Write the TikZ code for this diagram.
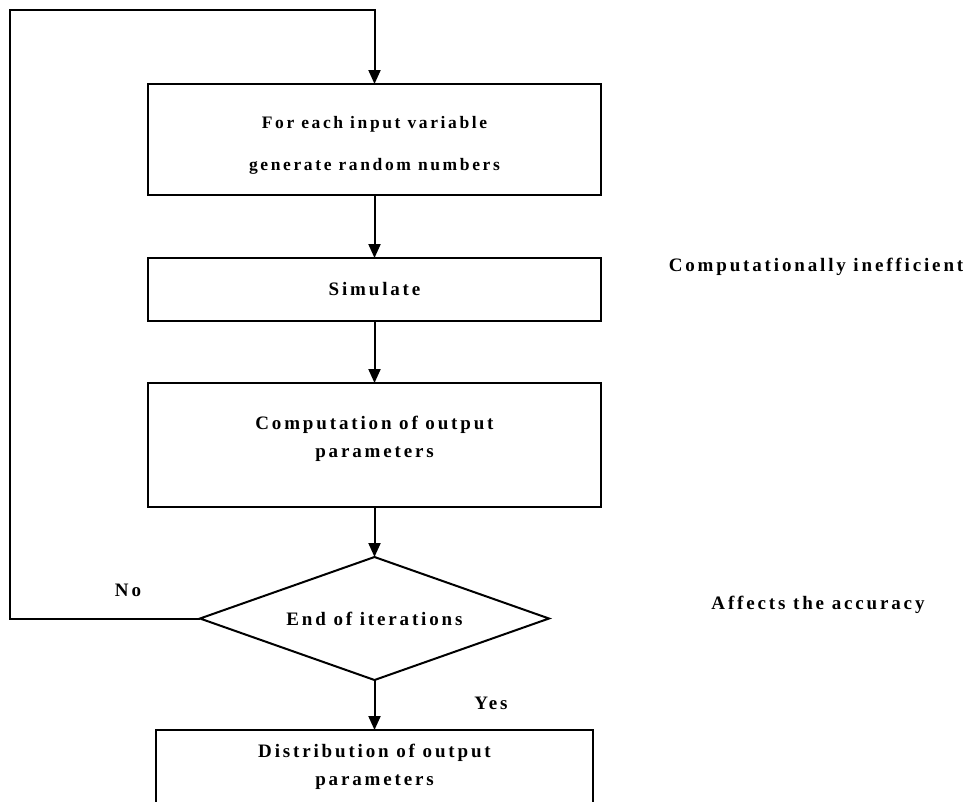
\documentclass[tikz,border=0pt]{standalone}
\usepackage{fontspec}
\setmainfont{Liberation Serif}[LetterSpace=15]
\usetikzlibrary{positioning,shapes.geometric,arrows.meta}

\begin{document}
\begin{tikzpicture}[x=1pt,y=-1pt,
    stepbox/.style={draw,rectangle,line width=2pt,outer sep=0pt,minimum width=453pt,align=center,
      font=\fontsize{19}{28}\selectfont\bfseries},
    decision/.style={draw,diamond,line width=2pt,outer sep=0pt,inner sep=0pt,shape aspect=2.84,
      minimum width=349pt,minimum height=123pt,font=\fontsize{19}{28}\selectfont\bfseries},
    remark/.style={font=\fontsize{19}{28}\selectfont\bfseries},
    flow/.style={-{Triangle[width=12pt,length=14pt]},line width=2pt}]
    \clip (0,0) rectangle (973,801);

    \node[stepbox,minimum height=111pt,text height=65pt,font=\fontsize{17.5}{42}\selectfont\bfseries] (gen) at (374.5,139.5) {For each input variable\\generate random numbers};
    \node[stepbox,minimum height=63pt,below=63pt of gen] (sim) {Simulate};
    \node[stepbox,minimum height=124pt,text depth=16pt,below=62pt of sim] (comp) {Computation of output\\parameters};
    \node[decision,below=50pt of comp] (iter) {End of iterations};
    \node[stepbox,minimum width=437pt,minimum height=74pt,below=50pt of iter] (dist) {Distribution of output\\parameters};

    \node[remark] (ineff) at (816,267) {Computationally inefficient};
    \node[remark] (acc) at (818,605) {Affects the accuracy};
    \node[remark] (no) at (128,590) {No};
    \node[remark] (yes) at (491,703) {Yes};

    \coordinate (loop) at (10,10);

    % arrows
    \draw[flow] (gen) -- (sim);
    \draw[flow] (sim) -- (comp);
    \draw[flow] (comp) -- (iter);
    \draw[flow] (iter) -- (dist);
    \draw[flow] (iter.west) -| (loop) -| (gen.north);

\end{tikzpicture}
\end{document}
